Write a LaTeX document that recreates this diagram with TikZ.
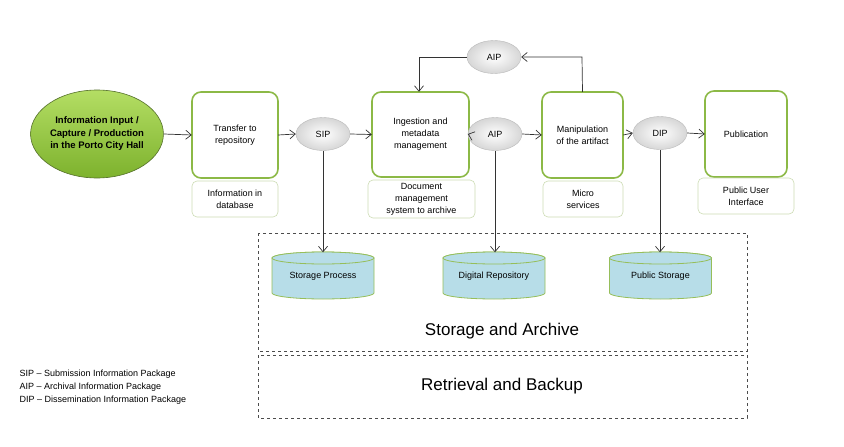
\documentclass[tikz,border=0pt]{standalone}
\usepackage{fontspec}
\setmainfont{Liberation Sans}
\usetikzlibrary{arrows.meta,shapes.geometric}
\definecolor{boxgreen}{RGB}{140,185,70}
\definecolor{palegreen}{RGB}{205,220,180}
\definecolor{cylblue}{RGB}{183,221,232}
\definecolor{cylline}{RGB}{150,190,90}
\tikzset{
  every node/.style={font=\fontsize{9}{12}\selectfont, align=center},
  procbox/.style={draw=boxgreen, line width=1.6pt, rounded corners=9pt, fill=white},
  notebox/.style={draw=palegreen, line width=0.6pt, rounded corners=5pt, fill=white},
  pkg/.style={ellipse, draw=gray!55, inner color=white, outer color=gray!32, minimum width=54pt, minimum height=33pt, inner sep=0pt},
  arr/.style={-{Straight Barb[length=5.5pt,width=9pt]}, line width=0.7pt, black!80},
  dbox/.style={draw=black!70, dashed, line width=0.7pt},
  cyl/.style={draw=cylline, line width=0.8pt, fill=cylblue},
}
\begin{document}
\begin{tikzpicture}[x=1pt,y=-1pt]
\useasboundingbox (0,0) rectangle (844,447);
% start ellipse
\node[ellipse, draw=boxgreen!60!black, line width=0.6pt, top color={rgb,255:red,180;green,222;blue,100}, bottom color={rgb,255:red,125;green,178;blue,45}, minimum width=124pt, minimum height=88pt, inner sep=0pt, font=\fontsize{9.5}{12.5}\selectfont\bfseries] (input) at (97,134) {Information Input /\\Capture / Production\\in the Porto City Hall};
% process boxes
\path[procbox] (192,92) rectangle (278,178);
\node[minimum width=86pt, minimum height=86pt] (transfer) at (235,135) {Transfer to\\repository};
\path[notebox] (192,181) rectangle (278,217);
\node (infodb) at (235,199) {Information in\\database};

\path[procbox] (372,92) rectangle (469,177);
\node[minimum width=97pt, minimum height=85pt] (ingest) at (420.5,134.5) {Ingestion and\\metadata\\management};
\path[notebox] (368,180) rectangle (475,218);
\node (dms) at (421.5,199) {Document\\management\\system to archive};

\path[procbox] (542,92) rectangle (623,178);
\node[minimum width=81pt, minimum height=86pt] (manip) at (582.5,135) {Manipulation\\of the artifact};
\path[notebox] (543,181) rectangle (623,217);
\node (micro) at (583,199) {Micro\\services};

\path[procbox] (705,91) rectangle (787,177);
\node[minimum width=82pt, minimum height=86pt] (pub) at (746,134) {Publication};
\path[notebox] (698,178) rectangle (794,214);
\node (pui) at (746,196) {Public User\\Interface};

% package ellipses
\node[pkg] (sip) at (323,134) {SIP};
\node[pkg] (aip) at (495,134) {AIP};
\node[pkg] (aiptop) at (494,57) {AIP};
\node[pkg] (dip) at (660,133) {DIP};

% flow arrows
\draw[arr] (input.east) -- (transfer.west);
\draw[arr] (transfer.east) -- (sip.west);
\draw[arr] (sip.east) -- (ingest.west);
\draw[arr] (ingest.east) -- (aip.west);
\draw[arr] (aip.east) -- (manip.west);
\draw[arr] (manip.east) -- (dip.west);
\draw[arr] (dip.east) -- (pub.west);
% loop
\coordinate (loopR) at (582,57);
\coordinate (loopL) at (419,57);
\draw[arr] (manip.north) -- (loopR) -- (aiptop.east);
\draw[arr] (aiptop.west) -- (loopL) -- (ingest.north -| loopL);

% dashed areas
\draw[dbox] (258,233) rectangle (747,351);
\node[font=\fontsize{17}{19}\selectfont] (sa) at (502,331) {Storage and Archive};
\draw[dbox] (258,355) rectangle (747,418);
\node[font=\fontsize{17}{19}\selectfont] (rb) at (502,386) {Retrieval and Backup};

% cylinders
\foreach \cx/\nm/\txt in {323/sp/Storage Process, 494/dr/Digital Repository, 660.5/ps/Public Storage}{
  \path[cyl] (\cx-51,258) -- (\cx-51,293) arc[start angle=180,end angle=360,x radius=51pt,y radius=6pt] -- (\cx+51,258) arc[start angle=0,end angle=180,x radius=51pt,y radius=6pt] -- cycle;
  \draw[cyl] (\cx,258) ellipse[x radius=51pt,y radius=6pt];
  \node[font=\fontsize{9}{11}\selectfont, minimum width=102pt, minimum height=47pt, inner sep=0pt] (\nm) at (\cx,276) {\txt};
}
\draw[arr] (sip.south) -- (sip.south |- sp.north);
\draw[arr] (aip.south) -- (aip.south |- dr.north);
\draw[arr] (dip.south) -- (dip.south |- ps.north);

% legend
\node[anchor=west, align=left, font=\fontsize{9}{13}\selectfont] (legend) at (16,387) {SIP -- Submission Information Package\\AIP -- Archival Information Package\\DIP -- Dissemination Information Package};
\end{tikzpicture}
\end{document}
